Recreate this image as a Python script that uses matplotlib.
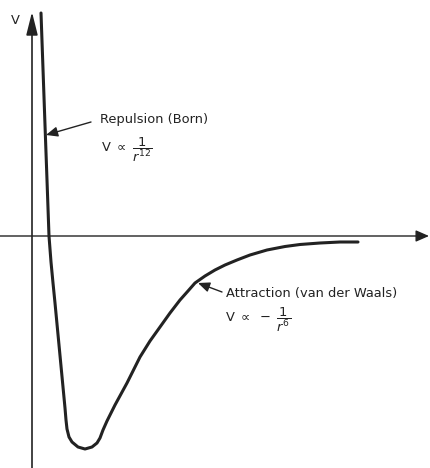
import numpy as np
import matplotlib
matplotlib.use("Agg")
import matplotlib.pyplot as plt

# potential curve (arbitrary units, axes cross at 0, 0)
r = [9, 11, 13, 15, 17, 19, 21, 23, 25, 27, 29, 31, 33, 34, 35, 37, 40,
     46, 53, 60, 65, 68, 71, 75, 79, 83, 89, 95, 101, 108, 118, 128, 138, 148,
     156, 163, 173, 183, 193, 205, 218, 235, 253, 268, 288, 308, 326]
V = [223, 167, 111, 56, 0, -26, -47, -67, -88, -109, -130, -151, -172, -184,
     -193, -201, -206, -211, -213, -211, -207, -202, -194, -185, -177,
     -169, -158, -147, -135, -121, -105, -91, -77, -64, -55, -47, -40, -34,
     -29, -24, -19, -14, -10.5, -8.5, -7, -6, -6]

repulsion_label = "Repulsion (Born)"
repulsion_law = r"$\mathrm{V}\ \propto\ \dfrac{1}{r^{12}}$"
attraction_label = "Attraction (van der Waals)"
attraction_law = r"$\mathrm{V}\ \propto\ -\ \dfrac{1}{r^{6}}$"

ink = "#222222"
fs = 9.4

fig = plt.figure(figsize=(4.3, 4.68), dpi=100)
ax = fig.add_axes([0, 0, 1, 1])
ax.set_xlim(-32, 398)
ax.set_ylim(-232, 236)
ax.axis("off")

# axes with arrows
ax.annotate("", xy=(0, 224), xytext=(0, -232),
            arrowprops=dict(arrowstyle="-|>,head_length=1.4,head_width=0.35",
                            lw=1.2, color=ink, shrinkA=0, shrinkB=0,
                            mutation_scale=10))
ax.annotate("", xy=(397, 0), xytext=(-32, 0),
            arrowprops=dict(arrowstyle="-|>,head_length=0.8,head_width=0.35",
                            lw=1.0, color=ink, shrinkA=0, shrinkB=0,
                            mutation_scale=10))
ax.text(-17, 216, "V", fontsize=fs, color=ink, ha="center", va="center")

ax.plot(r, V, color=ink, lw=2.2, solid_joinstyle="round", solid_capstyle="round")

# labels with pointers
ax.annotate("", xy=(14, 101), xytext=(59, 114),
            arrowprops=dict(arrowstyle="-|>,head_length=0.7,head_width=0.3",
                            lw=1.0, color=ink, shrinkA=0, shrinkB=0,
                            mutation_scale=10))
ax.text(68, 116, repulsion_label, fontsize=fs, color=ink, va="center")
ax.text(69, 86, repulsion_law, fontsize=fs, color=ink, va="center")

ax.annotate("", xy=(166, -47), xytext=(190, -56),
            arrowprops=dict(arrowstyle="-|>,head_length=0.7,head_width=0.3",
                            lw=1.0, color=ink, shrinkA=0, shrinkB=0,
                            mutation_scale=10))
ax.text(194, -57, attraction_label, fontsize=fs, color=ink, va="center")
ax.text(193, -84, attraction_law, fontsize=fs, color=ink, va="center")

fig.savefig("out.png", dpi=100)
